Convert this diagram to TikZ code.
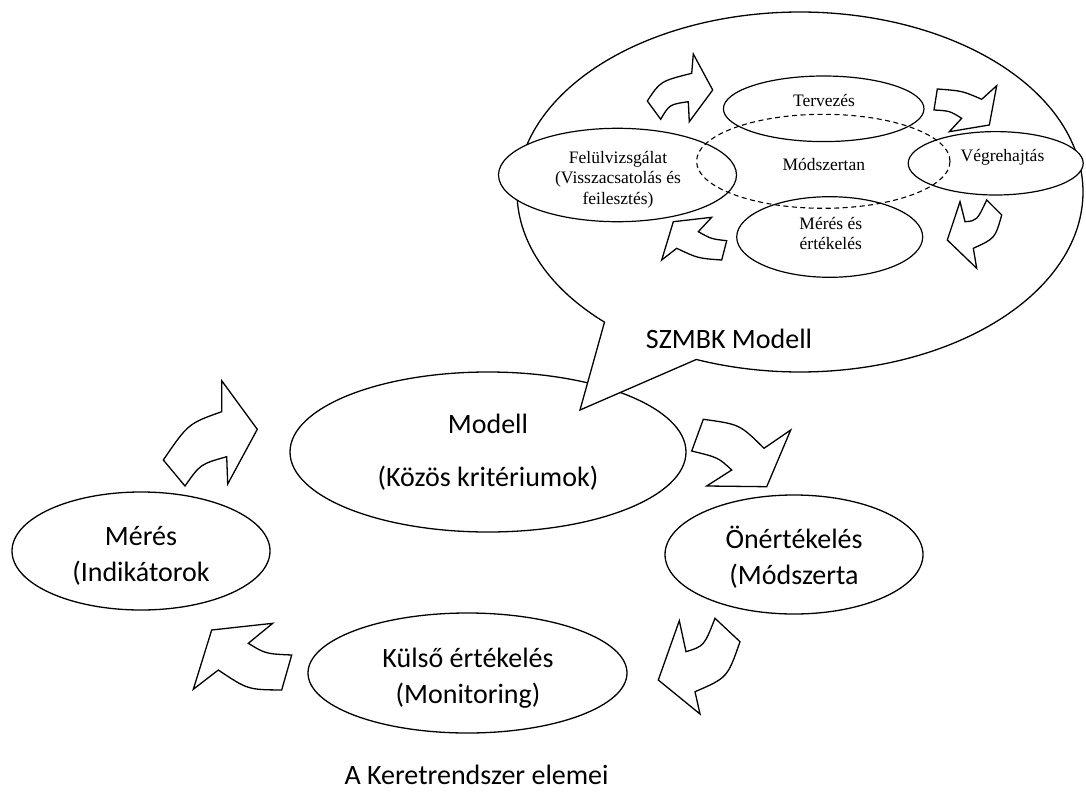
\documentclass[tikz,border=0pt]{standalone}
\usepackage{fontspec}
\setmainfont{Carlito}
\newfontfamily\tnr{Liberation Serif}
\usetikzlibrary{shapes.geometric,calc}
\tikzset{
  ell/.style={draw, ellipse, fill=white, inner sep=0pt, outer sep=0pt, line width=1.3pt},
  dashell/.style={draw, ellipse, inner sep=0pt, outer sep=0pt, line width=1.1pt, dash pattern=on 5pt off 3.5pt},
  blk/.style={draw, fill=white, line width=1.3pt, line join=miter},
  bigtxt/.style={font=\fontsize{28}{36.5}\selectfont, align=center, inner sep=0pt},
  smalltxt/.style={font=\tnr\fontsize{17.5}{20.5}\selectfont, align=center, inner sep=0pt},
}
% block arrow: tailA, outer-mid, notch, barb, tip, barb, notch, inner-mid, tailB
\newcommand\blockarr[9]{%
  \draw[blk] #1 .. controls ($1.3333*#2-0.1667*#1-0.1667*#3$) .. #3 -- #4 -- #5 -- #6 -- #7
     .. controls ($1.3333*#8-0.1667*#7-0.1667*#9$) .. #9 -- cycle;}
\begin{document}
\begin{tikzpicture}[x=1pt,y=-1pt]
\useasboundingbox (0,0) rectangle (1086,792);

% main ellipses
\node[ell, minimum width=396pt, minimum height=160pt] (modell) at (488,452) {};
\node[ell, minimum width=258pt, minimum height=118pt] (meres) at (141,551) {};
\node[ell, minimum width=258pt, minimum height=119pt] (oner) at (794,554.5) {};
\node[ell, minimum width=319pt, minimum height=120pt] (kulso) at (467.5,673) {};

% main block arrows
\blockarr{(163.3,460)}{(189.3,426.7)}{(221.7,411.7)}{(221.7,380.7)}{(257.3,429.3)}{(227.7,484)}{(226.7,456.7)}{(201.7,466)}{(185,486)}
\blockarr{(703.3,419.3)}{(738.3,426.7)}{(764,448.3)}{(790.7,430)}{(766.7,486.7)}{(706.7,486)}{(731.7,470)}{(716.7,458.3)}{(691.7,451)}
\blockarr{(740,641.7)}{(725,675)}{(695,691.7)}{(700,714)}{(658.3,680)}{(679.3,620.7)}{(686,651.7)}{(703.3,643.3)}{(715,618.3)}
\blockarr{(281.7,690)}{(248.3,687.3)}{(218.3,670)}{(193.3,689.3)}{(211.7,630)}{(272.7,623.3)}{(248.3,643.3)}{(266.7,652.7)}{(291.7,655)}

% callout
\coordinate (ptip) at (580,410);
\draw[blk] (ptip) -- plot[domain=133.7:471.5, samples=240, variable=\t] ({800+283*cos(\t)},{192+180*sin(\t)}) -- cycle;

% inner ellipses
\node[ell, line width=1.2pt, minimum width=200.6pt, minimum height=65.6pt] (terv) at (823.7,108.8) {};
\node[ell, line width=1.2pt, minimum width=186pt, minimum height=80.6pt] (meresert) at (829.7,237) {};
\node[ell, line width=1.2pt, minimum width=238pt, minimum height=93.4pt] (felul) at (617.5,175) {};
\node[ell, line width=1.2pt, minimum width=175pt, minimum height=63.4pt] (vegre) at (995.7,163.3) {};

% inner block arrows
\blockarr{(647.3,101)}{(662.7,82.7)}{(691.7,73.3)}{(693.3,54)}{(712.7,90)}{(689.3,121.7)}{(688.3,101.7)}{(670.7,106)}{(660.7,119.3)}
\blockarr{(937.3,89)}{(961.7,91.7)}{(981.7,99.3)}{(996.7,85.7)}{(989.3,125)}{(949.3,131.7)}{(961.7,118.3)}{(949.3,111.7)}{(934,110)}
\blockarr{(1001.7,215)}{(993.3,236.7)}{(973.3,248.3)}{(976.7,268.3)}{(947.3,240)}{(960,201.7)}{(965,221.7)}{(976.7,218.3)}{(986.7,200)}
\blockarr{(721.7,260)}{(698.3,257.3)}{(676.7,248.3)}{(661.7,260)}{(673.3,221.7)}{(711.7,217.3)}{(698.3,231.7)}{(711.7,238.3)}{(726.7,240.7)}

% dashed methodology ellipse
\node[dashell, minimum width=253.4pt, minimum height=94pt] (modsz) at (823.3,161.3) {};

% inner texts
\node[smalltxt, anchor=base] (terv-t) at (824,106) {Tervezés};
\node[smalltxt, anchor=base] (modsz-t) at (823.8,170) {Módszertan};
\node[smalltxt, anchor=base] (vegre-t) at (1002.5,161) {Végrehajtás};
\node[smalltxt] (felul-t) at (618,179.7) {\strut Felülvizsgálat\\(Visszacsatolás és\\feilesztés)\strut};
\node[smalltxt] (meresert-t) at (830.8,235.5) {\strut Mérés és\\értékelés\strut};

% main texts
\node[bigtxt] (meres-t) at (141,556) {\strut Mérés\\(Indikátorok\strut};
\node[bigtxt] (oner-t) at (794,559.3) {\strut Önértékelés\\(Módszerta\strut};
\node[bigtxt] (kulso-t) at (468,678.3) {\strut Külső értékelés\\(Monitoring)\strut};
\node[bigtxt, font=\fontsize{28}{53}\selectfont] (modell-t) at (488,448.9) {\strut Modell\\(Közös kritériumok)\strut};
\node[bigtxt, anchor=base] (szmbk) at (729,348) {SZMBK Modell};
\node[bigtxt, anchor=base] (caption) at (476.5,784) {A Keretrendszer elemei};
\end{tikzpicture}
\end{document}
